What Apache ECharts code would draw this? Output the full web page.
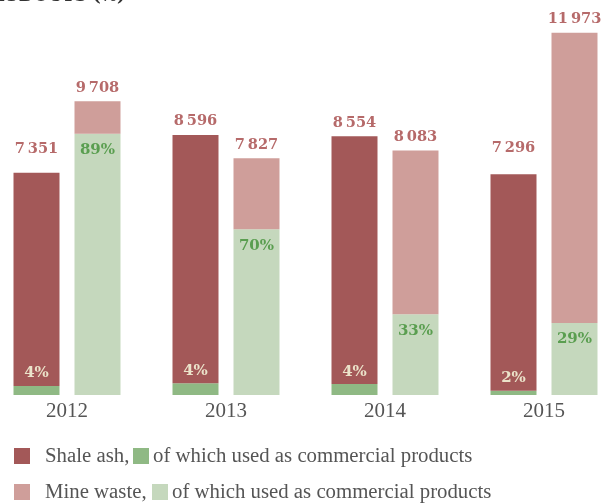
<!DOCTYPE html>
<html><head><meta charset="utf-8">
<script src="https://cdn.jsdelivr.net/npm/echarts@6/dist/echarts.min.js"></script>
<style>html,body{margin:0;padding:0;background:#fff}#c{width:602px;height:504px}</style>
</head><body><div id="c"></div>
<script>
const years = ['2012', '2013', '2014', '2015'];
const ashTotal = [7351, 8596, 8554, 7296];
const ashUsed = [300, 390, 360, 140];
const ashPct = [4, 4, 4, 2];
const mineTotal = [9708, 7827, 8083, 11973];
const mineUsed = [8640, 5480, 2670, 2380];
const minePct = [89, 70, 33, 29];
const titleText = 'PRODUCTS (%)';
const legendRow1 = ['Shale ash,', 'of which used as commercial products'];
const legendRow2 = ['Mine waste,', 'of which used as commercial products'];

const C = { ash: '#a35858', ashG: '#8fb984', mine: '#cf9e9a', mineG: '#c5d8bd',
  num: '#b66a6a', pctG: '#5a9e50', pctC: '#ebe3ca', text: '#555555' };
const ashLabelDist = [16, 6, 6, 19];
const numFont = '"DejaVu Serif"';
const legFont = '20.8px "Liberation Serif"';
const fmt = n => { const s = String(n); return s.length > 3 ? s.slice(0, -3) + '\u2009' + s.slice(-3) : s; };

const chart = echarts.init(document.getElementById('c'), null, { renderer: 'canvas' });
const labelBase = { show: true, fontFamily: numFont, fontWeight: 'bold' };
chart.setOption({
  animation: false,
  grid: { left: -12.5, width: 636, top: 32, height: 363, containLabel: false, outerBoundsMode: 'none' },
  xAxis: { type: 'category', data: years, axisLine: { show: false }, axisTick: { show: false },
    axisLabel: { margin: 6, fontFamily: '"Liberation Serif"', fontSize: 21, color: C.text } },
  yAxis: { type: 'value', min: 0, max: 12000, show: false, splitLine: { show: false } },
  series: [
    { name: 'ashUsed', type: 'bar', stack: 'ash', barWidth: 46, barGap: '32.6%',
      itemStyle: { color: C.ashG },
      data: ashUsed.map(v => v),
      label: Object.assign({}, labelBase, { position: 'top', distance: 5, fontSize: 15, color: C.pctC,
        formatter: p => ashPct[p.dataIndex] + '%' }) },
    { name: 'ashRest', type: 'bar', stack: 'ash', barWidth: 46, barGap: '32.6%',
      itemStyle: { color: C.ash },
      data: ashTotal.map((t, i) => ({ value: t - ashUsed[i], label: { distance: ashLabelDist[i] } })),
      label: Object.assign({}, labelBase, { position: 'top', fontSize: 14.6, color: C.num,
        formatter: p => fmt(ashTotal[p.dataIndex]) }) },
    { name: 'mineUsed', type: 'bar', stack: 'mine', barWidth: 46, barGap: '32.6%',
      itemStyle: { color: C.mineG },
      data: mineUsed.map(v => v),
      label: Object.assign({}, labelBase, { position: 'insideTop', distance: 9, fontSize: 15, color: C.pctG,
        formatter: p => minePct[p.dataIndex] + '%' }) },
    { name: 'mineRest', type: 'bar', stack: 'mine', barWidth: 46, barGap: '32.6%',
      itemStyle: { color: C.mine },
      data: mineTotal.map((t, i) => t - mineUsed[i]),
      label: Object.assign({}, labelBase, { position: 'top', distance: 6, fontSize: 14.6, color: C.num,
        formatter: p => fmt(mineTotal[p.dataIndex]) }) }
  ],
  graphic: [
    { type: 'text', x: 125, y: 5, style: { text: titleText, align: 'right', verticalAlign: 'bottom',
      font: 'bold 17px "DejaVu Serif"', fill: '#333333' } },
    { type: 'rect', shape: { x: 14, y: 448, width: 16, height: 16 }, style: { fill: C.ash } },
    { type: 'text', x: 45, y: 456.5, style: { text: legendRow1[0], verticalAlign: 'middle', font: legFont, fill: C.text } },
    { type: 'rect', shape: { x: 133, y: 448, width: 16, height: 16 }, style: { fill: C.ashG } },
    { type: 'text', x: 153, y: 456.5, style: { text: legendRow1[1], verticalAlign: 'middle', font: legFont, fill: C.text } },
    { type: 'rect', shape: { x: 14, y: 484, width: 16, height: 16 }, style: { fill: C.mine } },
    { type: 'text', x: 45, y: 492.5, style: { text: legendRow2[0], verticalAlign: 'middle', font: legFont, fill: C.text } },
    { type: 'rect', shape: { x: 152, y: 484, width: 16, height: 16 }, style: { fill: C.mineG } },
    { type: 'text', x: 172, y: 492.5, style: { text: legendRow2[1], verticalAlign: 'middle', font: legFont, fill: C.text } }
  ]
});
</script></body></html>
